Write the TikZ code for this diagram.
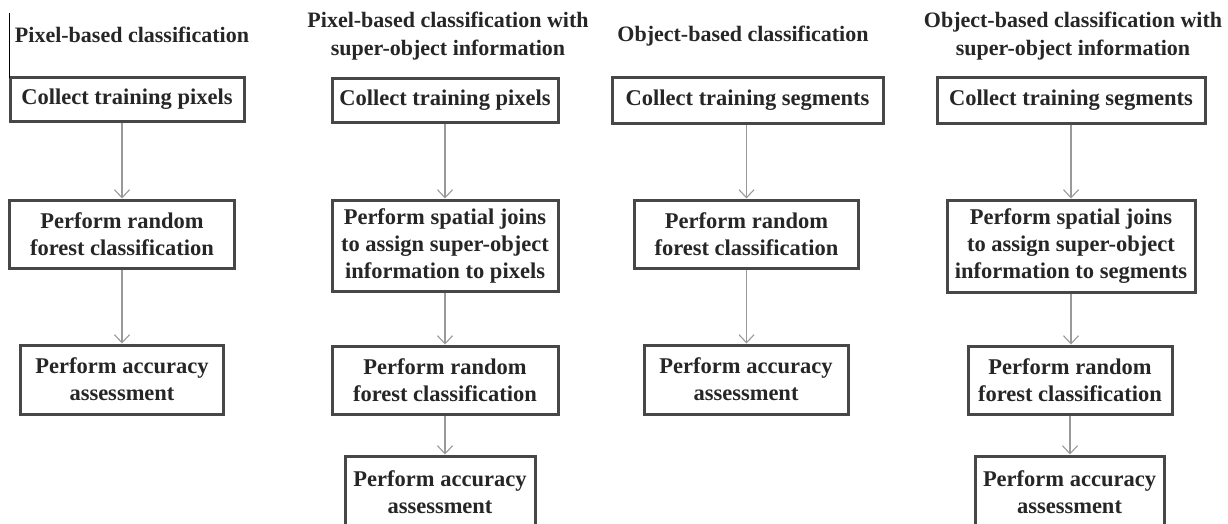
\documentclass[tikz,border=0pt]{standalone}
\usepackage{fontspec}
\setmainfont{Liberation Serif}
\usepackage{tikz}
\usetikzlibrary{arrows.meta,positioning,calc}

\begin{document}
\begin{tikzpicture}[x=1pt, y=-1pt,
      stepbox/.style={draw=black!72, line width=3pt, rectangle, align=center, inner sep=0pt,
        text=black!85, font=\bfseries\fontsize{22.5}{27}\selectfont},
      heading/.style={align=center, text=black!85, font=\bfseries\fontsize{22}{28}\selectfont},
      flow/.style={draw=black!40, line width=1.1pt, -{Straight Barb[length=8pt,width=15pt]}}
    ]
    \useasboundingbox (0,0) rectangle (1228,523);
    \clip (0,0) rectangle (1228,523);

    % pixel-based
    \node[heading] (t1) at (132,35) {Pixel-based classification};
    \node[stepbox, minimum width=234, minimum height=44] (c1a) at (127,99) {Collect training pixels};
    \node[stepbox, minimum width=225, minimum height=68] (c1b) at (122,234) {Perform random\\forest classification};
    \node[stepbox, minimum width=203, minimum height=69] (c1c) at (122,379.5) {Perform accuracy\\assessment};
    \draw[black, line width=0.8pt] (9,13) -- (9,78);

    % pixel-based with super-object
    \node[heading] (t2) at (448,36) {Pixel-based classification with\\super-object information};
    \node[stepbox, minimum width=226, minimum height=44] (c2a) at (445,100) {Collect training pixels};
    \node[stepbox, minimum width=226, minimum height=91] (c2b) at (445,245.5) {Perform spatial joins\\to assign super-object\\information to pixels};
    \node[stepbox, minimum width=226, minimum height=68] (c2c) at (445,380) {Perform random\\forest classification};
    \node[stepbox, minimum width=190, minimum height=72] (c2d) at (440,492) {Perform accuracy\\assessment};

    % object-based
    \node[heading] (t3) at (743,36) {Object-based classification};
    \node[stepbox, minimum width=271, minimum height=46] (c3a) at (747.5,100) {Collect training segments};
    \node[stepbox, minimum width=224, minimum height=68] (c3b) at (746.5,234) {Perform random\\forest classification};
    \node[stepbox, minimum width=204, minimum height=69] (c3c) at (746,379.5) {Perform accuracy\\assessment};

    % object-based with super-object
    \node[heading] (t4) at (1073,36) {Object-based classification with\\super-object information};
    \node[stepbox, minimum width=268, minimum height=46] (c4a) at (1071,100) {Collect training segments};
    \node[stepbox, minimum width=248, minimum height=92] (c4b) at (1071,246) {Perform spatial joins\\to assign super-object\\information to segments};
    \node[stepbox, minimum width=204, minimum height=68] (c4c) at (1070,380) {Perform random\\forest classification};
    \node[stepbox, minimum width=189, minimum height=72] (c4d) at (1069.5,492) {Perform accuracy\\assessment};

    % arrows
    \draw[flow] (c1a.south -| c1b) -- (c1b.north);
    \draw[flow] (c1b.south) -- (c1b.south |- c1c.north);
    \draw[flow] (c2a.south) -- (c2b.north);
    \draw[flow] (c2b.south) -- (c2c.north);
    \draw[flow] (c2c.south) -- (c2c.south |- c2d.north);
    \draw[flow] (c3a.south -| c3b) -- (c3b.north);
    \draw[flow] (c3b.south) -- (c3b.south |- c3c.north);
    \draw[flow] (c4a.south) -- (c4b.north);
    \draw[flow] (c4b.south) -- (c4b.south |- c4c.north);
    \draw[flow] (c4c.south) -- (c4c.south |- c4d.north);
  \end{tikzpicture}
\end{document}
